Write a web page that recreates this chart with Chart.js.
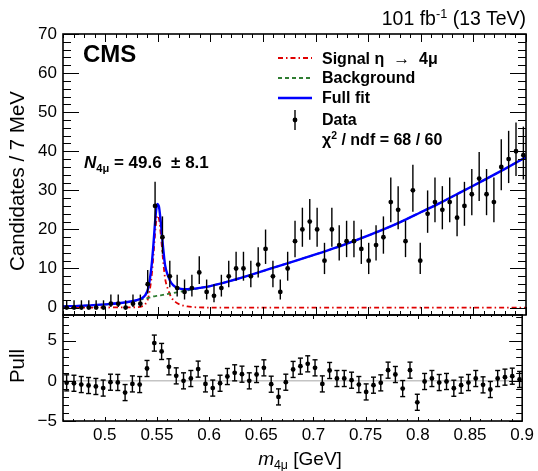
<!DOCTYPE html>
<html><head><meta charset="utf-8">
<script src="https://cdn.jsdelivr.net/npm/chart.js@4.4.1/dist/chart.umd.min.js"></script>
<style>
html,body{margin:0;padding:0;background:#fff;}
body{width:538px;height:471px;overflow:hidden;position:relative;font-family:"Liberation Sans",Arial,Helvetica,sans-serif;color:#000;}
canvas{position:absolute;left:0;top:0;}
.t{position:absolute;white-space:nowrap;line-height:1;}
.b{font-weight:bold;}
.rot{transform:translate(-50%,-50%) rotate(-90deg);}
sub,sup{font-size:65%;line-height:0;}
</style></head><body>
<canvas id="cTop" width="538" height="471"></canvas>
<canvas id="cPull" width="538" height="471"></canvas>

<div class="t" style="right:12px;top:9px;font-size:19.5px;">101 fb<sup>-1</sup> (13 TeV)</div>
<div class="t b" style="left:83px;top:42px;font-size:24px;">CMS</div>
<div class="t b" style="left:322px;top:50px;font-size:16px;">Signal &#951; &#160;<span style="font-weight:normal;font-size:17px;">&#8594;</span>&#160; 4&#956;</div>
<div class="t b" style="left:322px;top:70px;font-size:16px;">Background</div>
<div class="t b" style="left:322px;top:90px;font-size:16px;">Full fit</div>
<div class="t b" style="left:322px;top:112px;font-size:16px;">Data</div>
<div class="t b" style="left:322px;top:132px;font-size:16px;">&#967;<sup>2</sup> / ndf = 68 / 60</div>
<div class="t b" style="left:84px;top:154px;font-size:17px;"><i>N</i><sub>4&#956;</sub> = 49.6 &#160;&#177; 8.1</div>
<div class="t rot" style="left:17px;top:181px;font-size:20.5px;">Candidates / 7 MeV</div>
<div class="t rot" style="left:17px;top:366px;font-size:20.5px;">Pull</div>
<div class="t" style="left:300px;top:458px;transform:translate(-50%,-50%);font-size:19px;"><i>m</i><sub>4&#956;</sub> [GeV]</div>

<script>
// ---------- data ----------
const binLow = 0.46;
const binWidth = 0.007;
const counts = [0,0,0,0,0,0,1,1,0,1,1,6,26,18,8,5,4,5,9,4,3,5,8,10,10,8,11,15,8,4,10,17,20,22,20,12,20,16,17,17,15,12,16,18,27,25,17,30,12,24,27,25,27,23,26,29,33,29,27,36,38,40,39];
const pulls = [-0.25,-0.3,-0.46,-0.58,-0.7,-0.9,-0.17,-0.2,-1.46,-0.38,-0.46,1.54,4.7,3.66,1.75,0.62,0,0.29,1.46,-0.38,-0.9,-0.3,0.54,1.0,0.83,0,0.79,1.62,-0.42,-2.0,-0.17,1.42,1.83,2.12,1.62,-0.38,1.29,0.29,0.29,0.08,-0.46,-1.38,-0.54,-0.25,1.33,0.79,-0.96,1.33,-2.67,-0.08,0.29,-0.21,-0.08,-0.92,-0.54,-0.21,0.29,-0.5,-1.08,0.29,0.46,0.58,0.17];
const fitX =      [0.46,0.48,0.50,0.52,0.53,0.535,0.538,0.541,0.544,0.546,0.548,0.5495,0.551,0.553,0.555,0.557,0.560,0.563,0.567,0.572,0.578,0.585,0.59,0.60,0.62,0.64,0.66,0.68,0.70,0.72,0.74,0.76,0.78,0.80,0.82,0.84,0.86,0.88,0.90];
const signalFit = [0,0,0.02,0.05,0.1,0.3,0.8,2.5,7.5,13.5,20.5,23.5,23,18.5,12.5,7.5,4.5,2.6,1.4,0.7,0.3,0.1,0.04,0,0,0,0,0,0,0,0,0,0,0,0,0,0,0,0];
const bkgFit =    [0.3,0.5,0.8,1.3,1.8,2.1,2.3,2.5,2.7,2.85,2.95,3.0,3.05,3.15,3.25,3.35,3.5,3.65,3.85,4.1,4.4,4.75,5.0,5.5,6.9,8.5,10.2,11.9,13.6,15.4,17.4,19.5,21.8,24.4,27.0,29.8,32.6,35.5,38.5];
const fullFit =   [0.3,0.5,0.82,1.35,1.9,2.4,3.1,5.0,10.2,16.35,23.45,26.5,26.05,21.65,15.75,10.85,8.0,6.25,5.25,4.8,4.7,4.85,5.04,5.5,6.9,8.5,10.2,11.9,13.6,15.4,17.4,19.5,21.8,24.4,27.0,29.8,32.6,35.5,38.5];
const xTickLabels = [0.5,0.55,0.6,0.65,0.7,0.75,0.8,0.85,0.9];
const yTickLabelsTop = [0,10,20,30,40,50,60,70];
const yTickLabelsPull = [-5,0,5];

// ---------- derived ----------
const binCenters = counts.map((_, i) => +(binLow + binWidth * (i + 0.5)).toFixed(4));
const dataPts = counts.map((n, i) => ({x: binCenters[i], y: n}));
const pullPts = pulls.map((p, i) => ({x: binCenters[i], y: p}));
const errLo = counts.map(n => n > 0 ? n - Math.sqrt(n - 0.25) : 0);
const errHi = counts.map(n => n + Math.sqrt(n + 0.75) + 1);
const pts = ys => fitX.map((x, i) => ({x, y: ys[i]}));

const X_MIN = 0.46, X_MAX = 0.9;
const FONT = '"Liberation Sans", Arial, Helvetica, sans-serif';
const W = 538, H = 471, LEFT = 63, RIGHT = 526;

function range(a, b, s) { const r = []; for (let v = a; v <= b + 1e-9; v += s) r.push(+v.toFixed(4)); return r; }
const xMinor = range(0.46, 0.9, 0.01);

const framePlugin = {
  id: 'rootFrame',
  afterDatasetsDraw(chart, args, o) {
    const {ctx, chartArea: a, scales: {x, y}} = chart;
    ctx.save();
    if (o.errors) {
      ctx.strokeStyle = '#000'; ctx.lineWidth = 1.4;
      o.errors.forEach(e => {
        const px = x.getPixelForValue(e.x);
        ctx.beginPath();
        ctx.moveTo(px, y.getPixelForValue(e.lo));
        ctx.lineTo(px, y.getPixelForValue(e.hi));
        ctx.stroke();
        if (o.caps) {
          [e.lo, e.hi].forEach(v => {
            const py = y.getPixelForValue(v);
            ctx.beginPath(); ctx.moveTo(px - 2.5, py); ctx.lineTo(px + 2.5, py); ctx.stroke();
          });
        }
      });
    }
    ctx.strokeStyle = '#000';
    ctx.lineWidth = 1;
    const tickX = (vals, len) => vals.forEach(v => {
      const px = Math.round(x.getPixelForValue(v)) + 0.5;
      ctx.beginPath();
      ctx.moveTo(px, a.bottom); ctx.lineTo(px, a.bottom - len);
      ctx.moveTo(px, a.top); ctx.lineTo(px, a.top + len);
      ctx.stroke();
    });
    tickX(xMinor, o.xMin); tickX(xTickLabels, o.xMaj);
    const tickY = (vals, len) => vals.forEach(v => {
      const py = Math.round(y.getPixelForValue(v)) + 0.5;
      ctx.beginPath();
      ctx.moveTo(a.left, py); ctx.lineTo(a.left + len, py);
      ctx.moveTo(a.right, py); ctx.lineTo(a.right - len, py);
      ctx.stroke();
    });
    tickY(o.yMinor, o.yMin); tickY(o.yMajor, o.yMaj);
    ctx.lineWidth = 1.6;
    ctx.strokeRect(a.left, a.top, a.right - a.left, a.bottom - a.top);
    ctx.restore();
  },
  beforeDatasetsDraw(chart, args, o) {
    if (!o.zeroLine) return;
    const {ctx, chartArea: a, scales: {y}} = chart;
    const py = y.getPixelForValue(0);
    ctx.save(); ctx.strokeStyle = '#c4c4c4'; ctx.lineWidth = 1.5;
    ctx.beginPath(); ctx.moveTo(a.left, py); ctx.lineTo(a.right, py); ctx.stroke();
    ctx.restore();
  },
  afterDraw(chart, args, o) {
    if (!o.legend) return;
    const ctx = chart.ctx;
    ctx.save();
    const x0 = 278, x1 = 312;
    const line = (y, color, dash, w) => {
      ctx.strokeStyle = color; ctx.lineWidth = w; ctx.setLineDash(dash);
      ctx.beginPath(); ctx.moveTo(x0, y); ctx.lineTo(x1, y); ctx.stroke();
    };
    line(58, '#e00000', [5, 3, 1.5, 3], 1.8);
    line(78, '#2f7d32', [4, 3], 1.8);
    line(98, '#0000ff', [], 2.4);
    ctx.setLineDash([]);
    ctx.strokeStyle = '#000'; ctx.lineWidth = 1.4;
    ctx.beginPath(); ctx.moveTo(295, 110); ctx.lineTo(295, 130); ctx.stroke();
    ctx.fillStyle = '#000';
    ctx.beginPath(); ctx.arc(295, 120, 2.4, 0, Math.PI * 2); ctx.fill();
    ctx.restore();
  }
};

const common = {
  responsive: false, animation: false, devicePixelRatio: 1,
  events: [],
  plugins: {legend: {display: false}, tooltip: {enabled: false}},
};

function yScale(min, max, ticks, fmt) {
  return {
    type: 'linear', min, max,
    afterFit: s => { s.width = LEFT; },
    afterBuildTicks: s => { s.ticks = ticks.map(v => ({value: v})); },
    grid: {display: false, drawTicks: false},
    border: {display: false},
    ticks: {font: {family: FONT, size: 17}, color: '#000', padding: 6, callback: fmt || (v => String(v))}
  };
}

new Chart(document.getElementById('cTop'), {
  type: 'scatter',
  data: {datasets: [
    {label: 'Data', data: dataPts, pointRadius: 2.4, pointBackgroundColor: '#000', pointBorderWidth: 0, showLine: false},
    {label: 'Full fit', data: pts(fullFit), showLine: true, borderColor: '#0000ff', borderWidth: 2.4, pointRadius: 0, cubicInterpolationMode: 'monotone', fill: false},
    {label: 'Background', data: pts(bkgFit), showLine: true, borderColor: '#2f7d32', borderWidth: 1.8, borderDash: [4, 3], pointRadius: 0, cubicInterpolationMode: 'monotone', fill: false},
    {label: 'Signal', data: pts(signalFit), showLine: true, borderColor: '#e00000', borderWidth: 1.8, borderDash: [5, 3, 1.5, 3], pointRadius: 0, cubicInterpolationMode: 'monotone', fill: false}
  ]},
  options: Object.assign({}, common, {
    layout: {padding: {left: 0, right: W - RIGHT, top: 34, bottom: H - 315}},
    scales: {
      x: {type: 'linear', min: X_MIN, max: X_MAX, display: false},
      y: yScale(-1.9, 70, yTickLabelsTop)
    },
    plugins: Object.assign({}, common.plugins, {
      rootFrame: {
        errors: counts.map((n, i) => ({x: binCenters[i], lo: errLo[i], hi: errHi[i]})),
        caps: false, legend: true,
        xMaj: 8, xMin: 4,
        yMajor: yTickLabelsTop, yMinor: range(0, 70, 2), yMaj: 16, yMin: 8
      }
    })
  }),
  plugins: [framePlugin]
});

new Chart(document.getElementById('cPull'), {
  type: 'scatter',
  data: {datasets: [
    {label: 'Pull', data: pullPts, pointRadius: 2.4, pointBackgroundColor: '#000', pointBorderWidth: 0, showLine: false}
  ]},
  options: Object.assign({}, common, {
    layout: {padding: {left: 0, right: W - RIGHT, top: 315, bottom: 0}},
    scales: {
      x: {
        type: 'linear', min: X_MIN, max: X_MAX,
        afterFit: s => { s.height = H - 315 - 106; },
        afterBuildTicks: s => { s.ticks = xTickLabels.map(v => ({value: v})); },
        grid: {display: false, drawTicks: false}, border: {display: false},
        ticks: {font: {family: FONT, size: 17}, color: '#000', padding: 4, maxRotation: 0, autoSkip: false, callback: v => String(v)}
      },
      y: yScale(-5, 8.2, yTickLabelsPull, v => v < 0 ? '\u2212' + Math.abs(v) : String(v))
    },
    plugins: Object.assign({}, common.plugins, {
      rootFrame: {
        errors: pulls.map((p, i) => ({x: binCenters[i], lo: p - 1, hi: p + 1})),
        caps: true, zeroLine: true,
        xMaj: 4, xMin: 2,
        yMajor: yTickLabelsPull, yMinor: range(-5, 8, 1), yMaj: 13, yMin: 6
      }
    })
  }),
  plugins: [framePlugin]
});
</script>
</body></html>
